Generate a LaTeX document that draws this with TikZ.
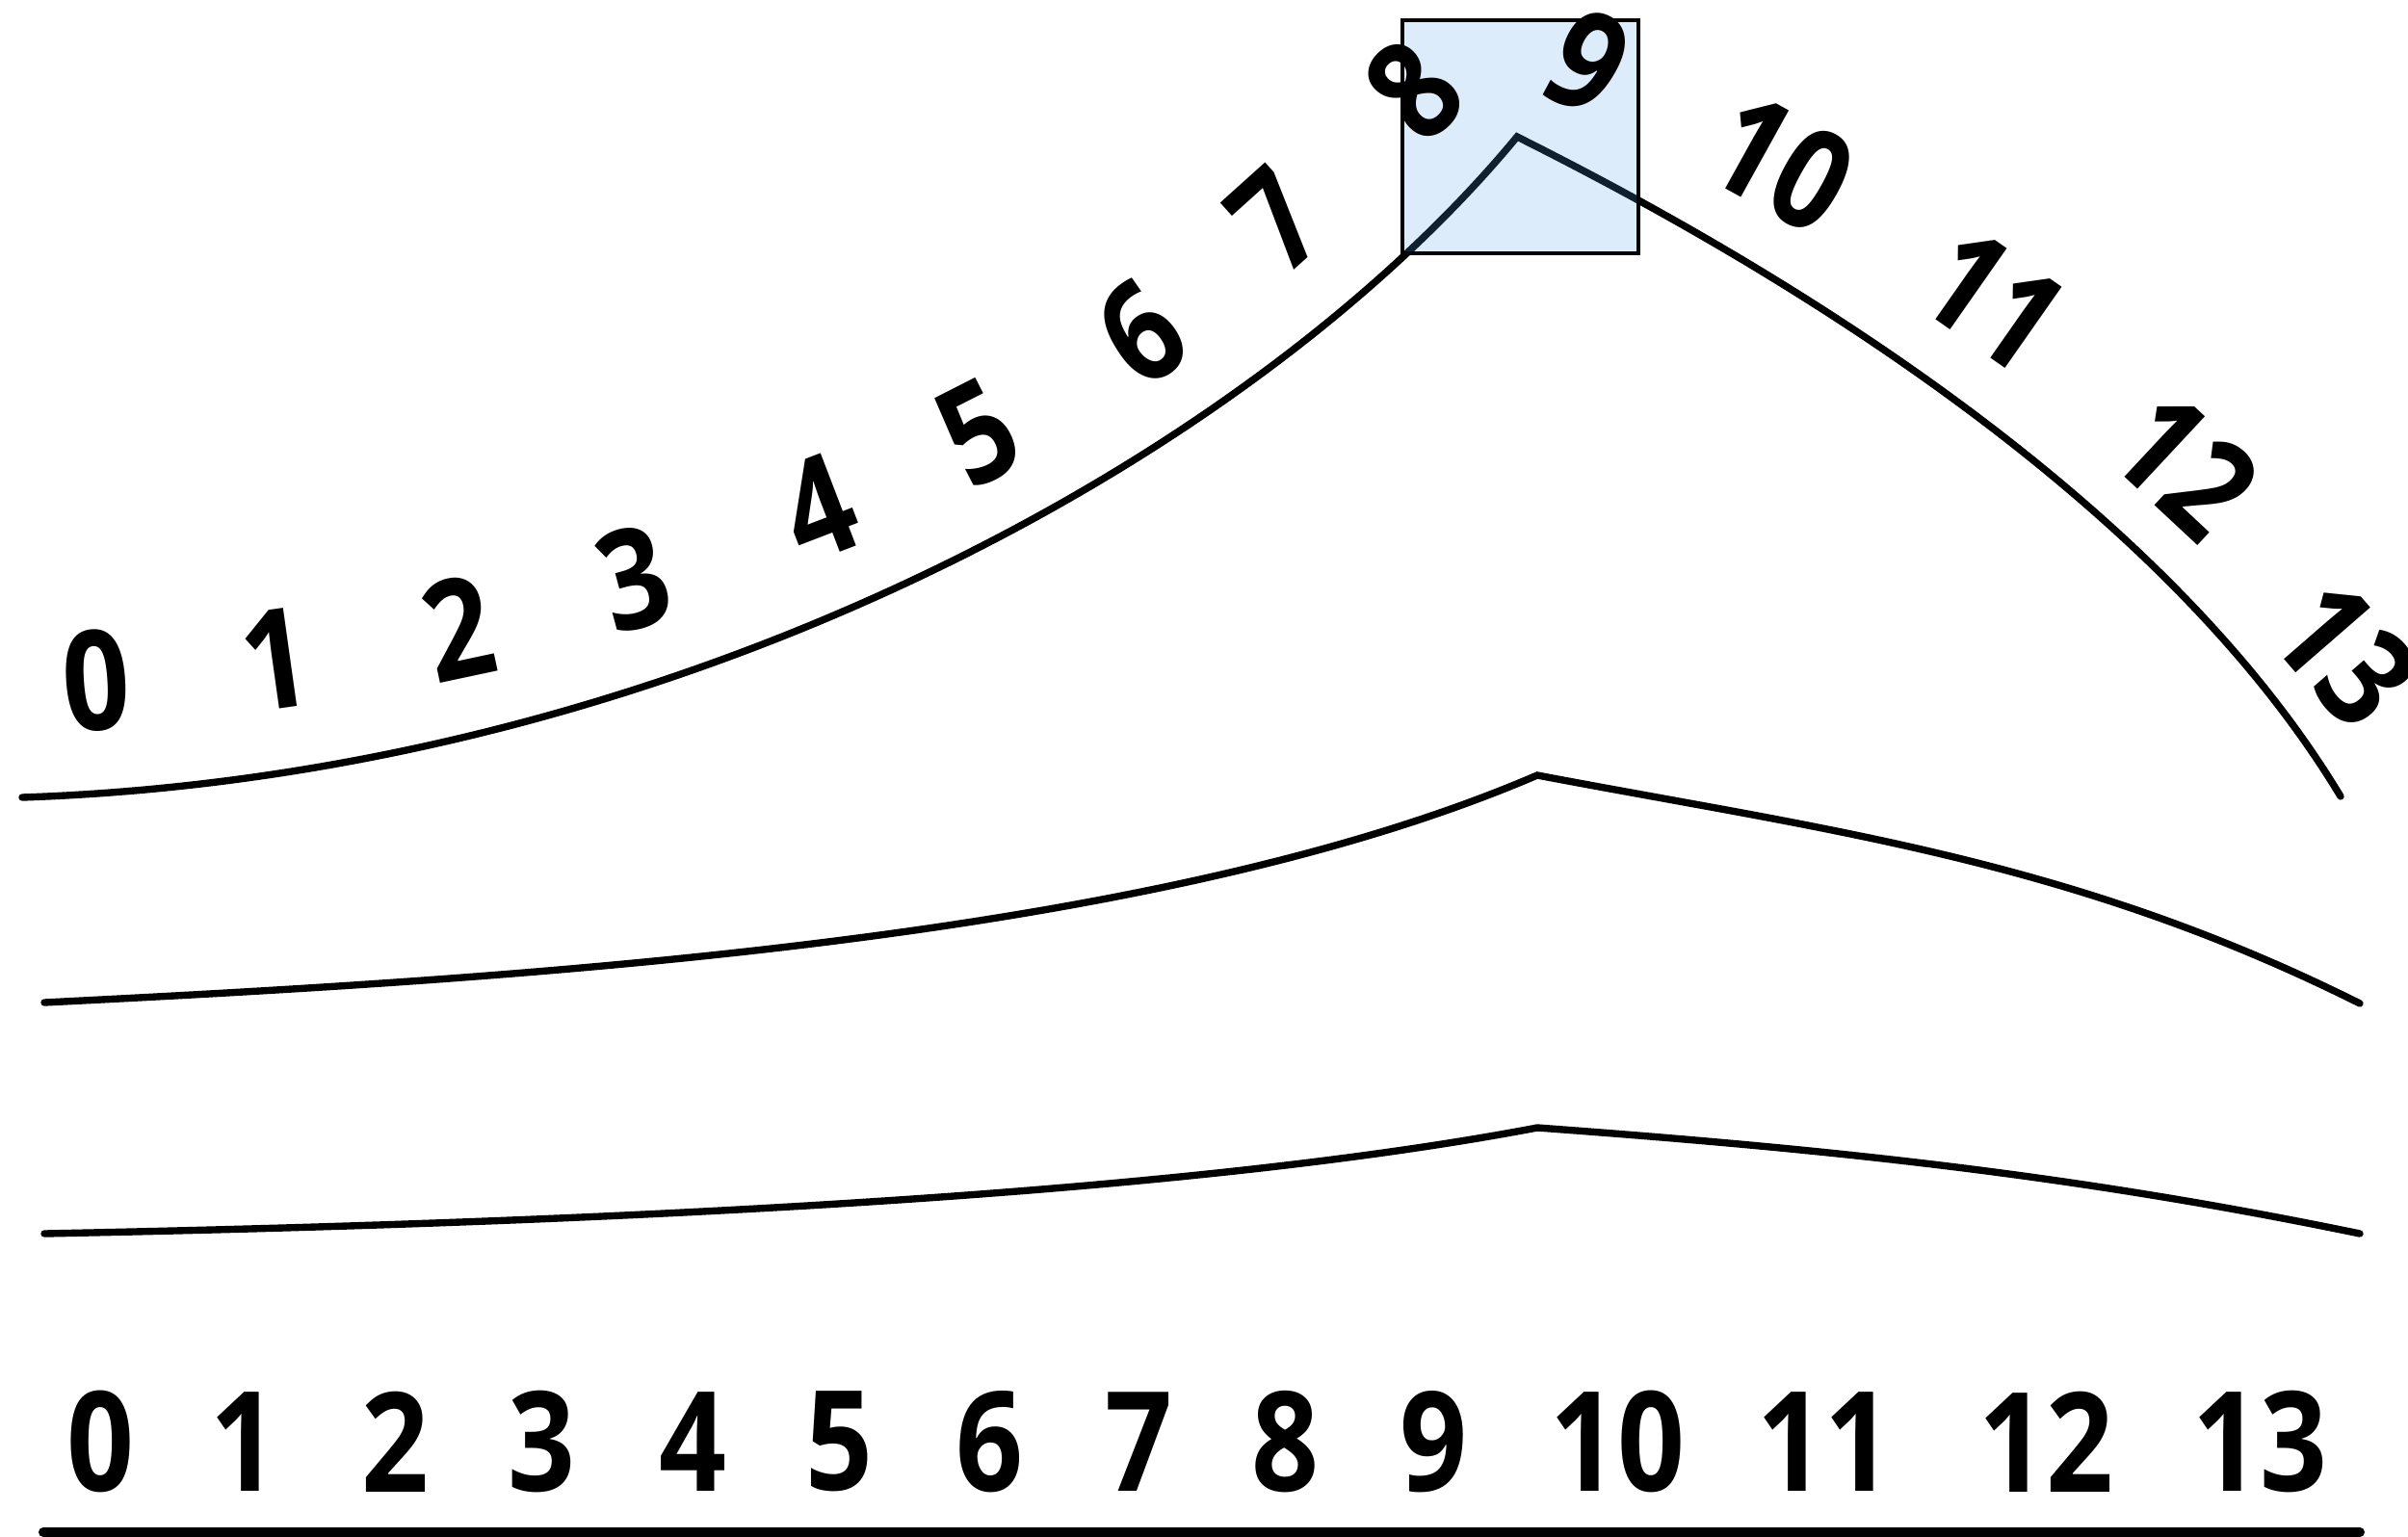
\documentclass[tikz,border=0pt]{standalone}
\usepackage{fontspec}
\setmainfont{Open Sans}[FakeStretch=0.85]
\usepackage{tikz}
\usetikzlibrary{positioning}

\definecolor{winblue}{RGB}{80,160,230}

\begin{document}
\begin{tikzpicture}[
    digit/.style={font=\fontsize{41}{41}\selectfont\bfseries, inner sep=0pt},
    curve/.style={line width=2.1pt, line cap=round, line join=miter},
    window/.style={draw, line width=1.3pt, fill=winblue, fill opacity=0.2}
]
\useasboundingbox (0,0) rectangle (25,15.95);
\clip (0,0) rectangle (25,15.95);

% Curves
\draw[curve] (0.23,7.67) .. controls (7.0,7.9) and (13.0,11.2) .. (15.75,14.53)
    .. controls (18.75,13.03) and (22.50,10.67) .. (24.30,7.68);
\draw[curve] (0.46,5.54) .. controls (5.46,5.79) and (11.96,6.18) .. (15.96,7.90)
    .. controls (18.96,7.33) and (21.50,7.03) .. (24.50,5.53);
\draw[curve] (0.46,3.14) .. controls (5.46,3.24) and (11.96,3.48) .. (15.96,4.24)
    .. controls (18.96,4.02) and (21.50,3.76) .. (24.50,3.14);

% Highlight window
\draw[window] (14.56,13.32) rectangle (17.01,15.74);

% Digits on the curve
\foreach \d/\x/\y/\r in {0/1.00/8.88/4, 1/2.86/9.10/8, 2/4.76/9.43/12, 3/6.58/9.94/15,
    4/8.50/10.68/21, 5/10.16/11.46/27, 6/11.85/12.50/35, 7/13.25/13.67/42,
    8/14.68/15.02/45, 9/16.48/15.30/-28, 10/18.50/14.26/-29, 11/20.70/12.84/-35,
    12/22.69/11.12/-43, 13/24.35/9.16/-49}
  \node[digit, rotate=\r] (t\d) at (\x,\y) {\d};

% Digits on the baseline
\foreach \d/\x in {0/1.04, 1/2.53, 2/4.10, 3/5.62, 4/7.19, 5/8.71, 6/10.27, 7/11.82,
    8/13.34, 9/14.88, 10/16.79, 11/18.94, 12/21.24, 13/23.46}
  \node[digit] (b\d) at (\x,0.98) {\d};

\coordinate (baseL) at (0.45,0.04);
\coordinate (baseR) at (24.50,0.04);
\draw[line width=0.1cm, line cap=round] (baseL) -- (baseR);

\end{tikzpicture}
\end{document}
